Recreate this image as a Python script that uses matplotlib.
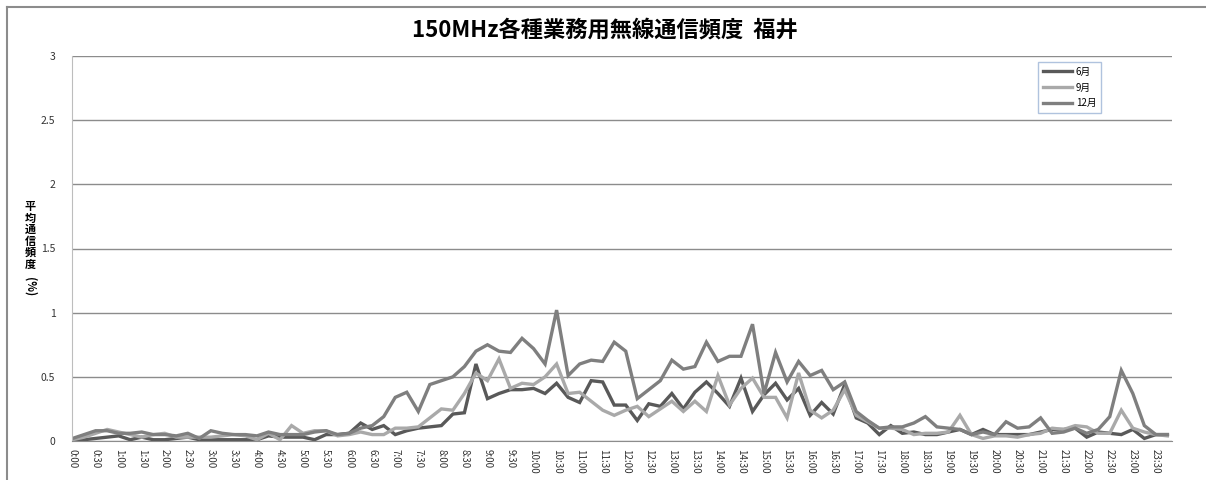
import matplotlib
matplotlib.use("Agg")
import matplotlib.pyplot as plt
import numpy as np
from matplotlib.lines import Line2D

plt.rcParams['font.family'] = ['Noto Sans CJK JP', 'DejaVu Sans']

# 15-minute slots 0:00 .. 23:45 (96 points), labels every 30 min
times = ["%d:%02d" % (m // 60, m % 60) for m in range(0, 24 * 60, 15)]
tick_labels = times[::2]

jun = [0.01, 0.01, 0.02, 0.03, 0.04, 0.01, 0.03, 0.01,
       0.01, 0.02, 0.03, 0.01, 0.01, 0.01, 0.01, 0.01,
       0.01, 0.04, 0.03, 0.03, 0.03, 0.01, 0.05, 0.05,
       0.06, 0.14, 0.09, 0.12, 0.05, 0.08, 0.10, 0.11,
       0.12, 0.21, 0.22, 0.60, 0.33, 0.37, 0.40, 0.40,
       0.41, 0.37, 0.45, 0.34, 0.30, 0.47, 0.46, 0.28,
       0.28, 0.16, 0.29, 0.27, 0.37, 0.25, 0.38, 0.46,
       0.37, 0.27, 0.49, 0.23, 0.36, 0.45, 0.32, 0.41,
       0.20, 0.30, 0.21, 0.44, 0.18, 0.14, 0.05, 0.12,
       0.06, 0.07, 0.05, 0.05, 0.07, 0.09, 0.05, 0.09,
       0.05, 0.05, 0.05, 0.05, 0.07, 0.09, 0.09, 0.10,
       0.03, 0.07, 0.06, 0.05, 0.09, 0.02, 0.05, 0.05]

sep = [0.01, 0.03, 0.06, 0.09, 0.07, 0.05, 0.03, 0.05,
       0.06, 0.03, 0.03, 0.03, 0.03, 0.04, 0.05, 0.04,
       0.01, 0.06, 0.01, 0.12, 0.06, 0.08, 0.08, 0.04,
       0.05, 0.07, 0.05, 0.05, 0.10, 0.10, 0.11, 0.18,
       0.25, 0.24, 0.37, 0.53, 0.47, 0.64, 0.41, 0.45,
       0.44, 0.50, 0.60, 0.37, 0.38, 0.31, 0.24, 0.20,
       0.24, 0.27, 0.19, 0.25, 0.31, 0.23, 0.31, 0.23,
       0.51, 0.28, 0.41, 0.49, 0.34, 0.34, 0.18, 0.53,
       0.24, 0.18, 0.24, 0.40, 0.20, 0.15, 0.10, 0.10,
       0.09, 0.05, 0.06, 0.06, 0.07, 0.20, 0.05, 0.02,
       0.04, 0.04, 0.03, 0.05, 0.06, 0.10, 0.09, 0.12,
       0.11, 0.06, 0.06, 0.24, 0.10, 0.07, 0.05, 0.04]

dec = [0.02, 0.05, 0.08, 0.08, 0.06, 0.06, 0.07, 0.05,
       0.05, 0.04, 0.06, 0.02, 0.08, 0.06, 0.05, 0.05,
       0.04, 0.07, 0.05, 0.05, 0.05, 0.07, 0.08, 0.05,
       0.06, 0.10, 0.12, 0.19, 0.34, 0.38, 0.23, 0.44,
       0.47, 0.50, 0.58, 0.70, 0.75, 0.70, 0.69, 0.80,
       0.72, 0.60, 1.02, 0.51, 0.60, 0.63, 0.62, 0.77,
       0.70, 0.33, 0.40, 0.47, 0.63, 0.56, 0.58, 0.77,
       0.62, 0.66, 0.66, 0.91, 0.37, 0.69, 0.46, 0.62,
       0.51, 0.55, 0.40, 0.46, 0.23, 0.16, 0.10, 0.11,
       0.11, 0.14, 0.19, 0.11, 0.10, 0.09, 0.05, 0.07,
       0.05, 0.15, 0.10, 0.11, 0.18, 0.06, 0.07, 0.10,
       0.06, 0.09, 0.19, 0.55, 0.37, 0.12, 0.05, 0.05]

series = [("6月", jun, "#595959"), ("9月", sep, "#a9a9a9"), ("12月", dec, "#7f7f7f")]

fig = plt.figure(figsize=(12.06, 4.8), dpi=100)
ax = fig.add_axes([72 / 1206, 1 - 441 / 480, 1100 / 1206, 385 / 480])

x = np.arange(len(times))
for name, vals, col in series:
    ax.plot(x, vals, color=col, lw=2.4, label=name, solid_joinstyle='miter')

ax.set_xlim(-0.05, 95.4)
ax.set_ylim(0, 3)
ax.set_yticks(np.arange(0, 3.01, 0.5))
ax.set_yticklabels(["0", "0.5", "1", "1.5", "2", "2.5", "3"], fontsize=7.5, color="#333333")
ax.set_xticks(x[::2])
ax.set_xticklabels(tick_labels, rotation=-90, fontsize=7, color="#333333", va="top")
ax.tick_params(length=0, pad=6)
ax.tick_params(axis="y", pad=12)
ax.yaxis.grid(True, color="#8c8c8c", lw=1)
ax.set_axisbelow(True)
for s in ["top", "right"]:
    ax.spines[s].set_visible(False)
ax.spines["left"].set_color("#bdbdbd")
ax.spines["bottom"].set_color("#8c8c8c")

fig.text(605 / 1206, 1 - 30 / 480, "150MHz各種業務用無線通信頻度  福井",
         ha="center", va="center", fontsize=16, fontweight="bold")

# stacked vertical axis title
fig.text(30 / 1206, 1 - 200 / 480, "平\n均\n通\n信\n頻\n度", ha="center", va="top",
         fontsize=8, fontweight="bold", linespacing=0.85)
fig.text(30 / 1206, 1 - 277 / 480, "(%)", ha="center", va="top",
         fontsize=8, fontweight="bold", rotation=-90)

handles = [Line2D([], [], color=c, lw=2.4) for _, _, c in series]
leg = fig.legend(handles, [n for n, _, _ in series], loc="upper left",
                 bbox_to_anchor=(1033 / 1206, 1 - 57 / 480), fontsize=7,
                 frameon=True, fancybox=False, handlelength=3, handletextpad=0.4,
                 labelspacing=0.6, borderpad=0.5)
leg.get_frame().set_edgecolor("#9cb4d6")
leg.get_frame().set_linewidth(1)

# outer chart border
fig.add_artist(Line2D([7 / 1206, 7 / 1206], [0, 1 - 7 / 480], transform=fig.transFigure,
                      color="#8c8c8c", lw=1.5))
fig.add_artist(Line2D([7 / 1206, 1], [1 - 7 / 480, 1 - 7 / 480], transform=fig.transFigure,
                      color="#8c8c8c", lw=1.5))

fig.savefig("out.png", dpi=100)
